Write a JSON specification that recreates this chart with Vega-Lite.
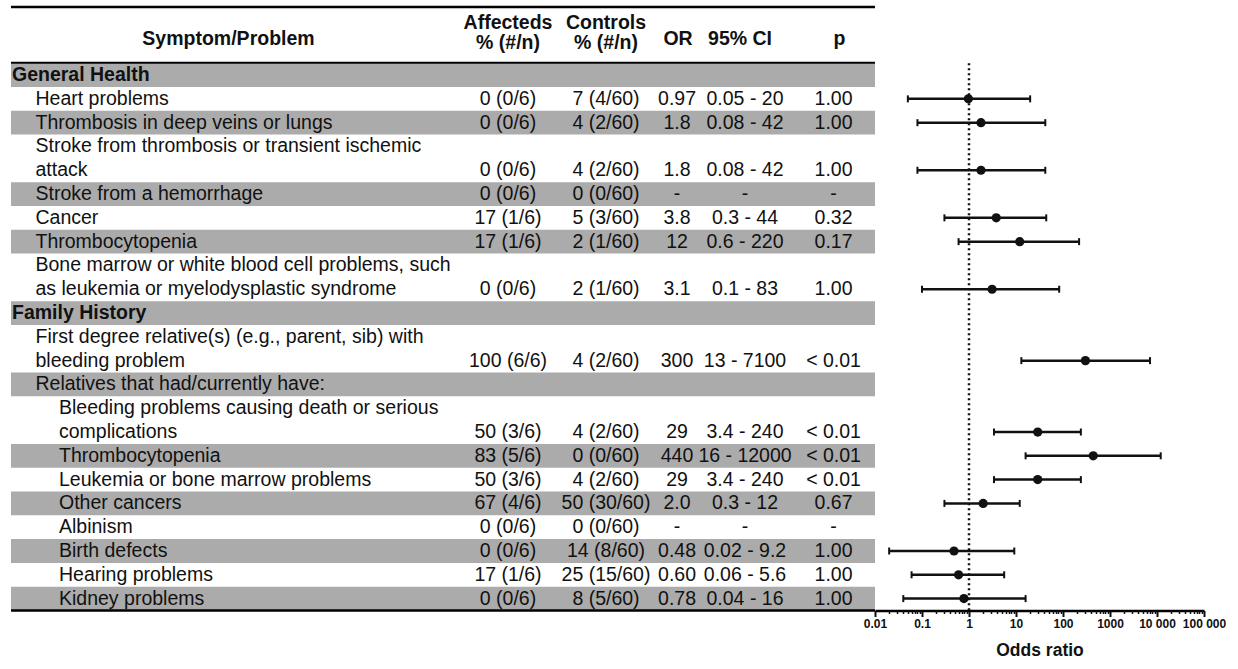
{
  "$schema": "https://vega.github.io/schema/vega-lite/v6.json",
  "padding": {"left": 9, "top": 5, "right": 0, "bottom": 0},
  "spacing": 0,
  "bounds": "flush",
  "config": {
    "view": {"stroke": null},
    "text": {"font": "Liberation Sans", "fontSize": 19.5, "color": "#111"},
    "concat": {"spacing": 0}
  },
  "datasets": {
    "rows": [
      {"item": 0, "k": 0, "level": 0, "label": "General Health"},
      {"item": 1, "k": 1, "level": 1, "label": "Heart problems", "aff": "0 (0/6)", "ctl": "7 (4/60)", "orText": "0.97", "ci": "0.05 - 20", "p": "1.00"},
      {"item": 2, "k": 2, "level": 1, "label": "Thrombosis in deep veins or lungs", "aff": "0 (0/6)", "ctl": "4 (2/60)", "orText": "1.8", "ci": "0.08 - 42", "p": "1.00"},
      {"item": 3, "k": 3, "level": 1, "label": "Stroke from thrombosis or transient ischemic"},
      {"item": 3, "k": 4, "level": 1, "label": "attack", "aff": "0 (0/6)", "ctl": "4 (2/60)", "orText": "1.8", "ci": "0.08 - 42", "p": "1.00"},
      {"item": 4, "k": 5, "level": 1, "label": "Stroke from a hemorrhage", "aff": "0 (0/6)", "ctl": "0 (0/60)", "orText": "-", "ci": "-", "p": "-"},
      {"item": 5, "k": 6, "level": 1, "label": "Cancer", "aff": "17 (1/6)", "ctl": "5 (3/60)", "orText": "3.8", "ci": "0.3 - 44", "p": "0.32"},
      {"item": 6, "k": 7, "level": 1, "label": "Thrombocytopenia", "aff": "17 (1/6)", "ctl": "2 (1/60)", "orText": "12", "ci": "0.6 - 220", "p": "0.17"},
      {"item": 7, "k": 8, "level": 1, "label": "Bone marrow or white blood cell problems, such"},
      {"item": 7, "k": 9, "level": 1, "label": "as leukemia or myelodysplastic syndrome", "aff": "0 (0/6)", "ctl": "2 (1/60)", "orText": "3.1", "ci": "0.1 - 83", "p": "1.00"},
      {"item": 8, "k": 10, "level": 0, "label": "Family History"},
      {"item": 9, "k": 11, "level": 1, "label": "First degree relative(s) (e.g., parent, sib) with"},
      {"item": 9, "k": 12, "level": 1, "label": "bleeding problem", "aff": "100 (6/6)", "ctl": "4 (2/60)", "orText": "300", "ci": "13 - 7100", "p": "< 0.01"},
      {"item": 10, "k": 13, "level": 1, "label": "Relatives that had/currently have:"},
      {"item": 11, "k": 14, "level": 2, "label": "Bleeding problems causing death or serious"},
      {"item": 11, "k": 15, "level": 2, "label": "complications", "aff": "50 (3/6)", "ctl": "4 (2/60)", "orText": "29", "ci": "3.4 - 240", "p": "< 0.01"},
      {"item": 12, "k": 16, "level": 2, "label": "Thrombocytopenia", "aff": "83 (5/6)", "ctl": "0 (0/60)", "orText": "440", "ci": "16 - 12000", "p": "< 0.01"},
      {"item": 13, "k": 17, "level": 2, "label": "Leukemia or bone marrow problems", "aff": "50 (3/6)", "ctl": "4 (2/60)", "orText": "29", "ci": "3.4 - 240", "p": "< 0.01"},
      {"item": 14, "k": 18, "level": 2, "label": "Other cancers", "aff": "67 (4/6)", "ctl": "50 (30/60)", "orText": "2.0", "ci": "0.3 - 12", "p": "0.67"},
      {"item": 15, "k": 19, "level": 2, "label": "Albinism", "aff": "0 (0/6)", "ctl": "0 (0/60)", "orText": "-", "ci": "-", "p": "-"},
      {"item": 16, "k": 20, "level": 2, "label": "Birth defects", "aff": "0 (0/6)", "ctl": "14 (8/60)", "orText": "0.48", "ci": "0.02 - 9.2", "p": "1.00"},
      {"item": 17, "k": 21, "level": 2, "label": "Hearing problems", "aff": "17 (1/6)", "ctl": "25 (15/60)", "orText": "0.60", "ci": "0.06 - 5.6", "p": "1.00"},
      {"item": 18, "k": 22, "level": 2, "label": "Kidney problems", "aff": "0 (0/6)", "ctl": "8 (5/60)", "orText": "0.78", "ci": "0.04 - 16", "p": "1.00"}
    ],
    "ci": [
      {"k": 1, "or": 0.97, "lo": 0.05, "hi": 20},
      {"k": 2, "or": 1.8, "lo": 0.08, "hi": 42},
      {"k": 4, "or": 1.8, "lo": 0.08, "hi": 42},
      {"k": 6, "or": 3.8, "lo": 0.3, "hi": 44},
      {"k": 7, "or": 12, "lo": 0.6, "hi": 220},
      {"k": 9, "or": 3.1, "lo": 0.1, "hi": 83},
      {"k": 12, "or": 300, "lo": 13, "hi": 7100},
      {"k": 15, "or": 29, "lo": 3.4, "hi": 240},
      {"k": 16, "or": 440, "lo": 16, "hi": 12000},
      {"k": 17, "or": 29, "lo": 3.4, "hi": 240},
      {"k": 18, "or": 2.0, "lo": 0.3, "hi": 12},
      {"k": 20, "or": 0.48, "lo": 0.02, "hi": 9.2},
      {"k": 21, "or": 0.60, "lo": 0.06, "hi": 5.6},
      {"k": 22, "or": 0.78, "lo": 0.04, "hi": 16}
    ]
  },
  "hconcat": [
    {
      "width": 441, "height": 603.5,
      "data": {"name": "rows"},
      "layer": [
        {"transform": [{"filter": "datum.item % 2 == 0"}], "mark": {"type": "tick", "orient": "horizontal", "size": 441, "thickness": 23.8, "color": "#ababab", "opacity": 1}, "encoding": {"y": {"field": "k", "type": "quantitative", "scale": {"domain": [-2.86, 22.5], "reverse": true, "nice": false, "zero": false}, "axis": null}}},
        {"transform": [{"filter": "datum.level == 0"}], "mark": {"type": "text", "align": "left", "baseline": "middle", "fontWeight": "bold"}, "encoding": {"x": {"field": "level", "type": "quantitative", "scale": {"domain": [0, 2], "range": [1, 48]}, "axis": null}, "y": {"field": "k", "type": "quantitative", "axis": null}, "text": {"field": "label", "type": "nominal"}}},
        {"transform": [{"filter": "datum.level > 0"}], "mark": {"type": "text", "align": "left", "baseline": "middle"}, "encoding": {"x": {"field": "level", "type": "quantitative", "axis": null}, "y": {"field": "k", "type": "quantitative", "axis": null}, "text": {"field": "label", "type": "nominal"}}},
        {"data": {"values": [{"t": "Symptom/Problem"}]}, "mark": {"type": "text", "baseline": "middle", "fontWeight": "bold", "dx": -3}, "encoding": {"y": {"datum": -1.52, "type": "quantitative", "axis": null}, "text": {"field": "t", "type": "nominal"}}},
        {"data": {"values": [{}]}, "mark": {"type": "rule", "strokeWidth": 2.5, "color": "#000"}, "encoding": {"y": {"datum": -2.86, "type": "quantitative", "axis": null}}},
        {"data": {"values": [{}]}, "mark": {"type": "rule", "strokeWidth": 2, "color": "#000"}, "encoding": {"y": {"datum": -0.52, "type": "quantitative", "axis": null}}},
        {"data": {"values": [{}]}, "mark": {"type": "rule", "strokeWidth": 2.5, "color": "#000"}, "encoding": {"y": {"datum": 22.5, "type": "quantitative", "axis": null}}}
      ]
    },
    {
      "width": 106, "height": 603.5,
      "data": {"name": "rows"},
      "layer": [
        {"transform": [{"filter": "datum.item % 2 == 0"}], "mark": {"type": "tick", "orient": "horizontal", "size": 106, "thickness": 23.8, "color": "#ababab", "opacity": 1}, "encoding": {"y": {"field": "k", "type": "quantitative", "scale": {"domain": [-2.86, 22.5], "reverse": true, "nice": false, "zero": false}, "axis": null}}},
        {"transform": [{"filter": "isValid(datum.aff)"}], "mark": {"type": "text", "baseline": "middle", "dx": 3}, "encoding": {"y": {"field": "k", "type": "quantitative", "axis": null}, "text": {"field": "aff", "type": "nominal"}}},
        {"data": {"values": [{"t": "Affecteds\n% (#/n)"}]}, "mark": {"type": "text", "baseline": "middle", "fontWeight": "bold", "lineBreak": "\n", "lineHeight": 20, "dx": 3}, "encoding": {"y": {"datum": -2.2, "type": "quantitative", "axis": null}, "text": {"field": "t", "type": "nominal"}}},
        {"data": {"values": [{}]}, "mark": {"type": "rule", "strokeWidth": 2.5, "color": "#000"}, "encoding": {"y": {"datum": -2.86, "type": "quantitative", "axis": null}}},
        {"data": {"values": [{}]}, "mark": {"type": "rule", "strokeWidth": 2, "color": "#000"}, "encoding": {"y": {"datum": -0.52, "type": "quantitative", "axis": null}}},
        {"data": {"values": [{}]}, "mark": {"type": "rule", "strokeWidth": 2.5, "color": "#000"}, "encoding": {"y": {"datum": 22.5, "type": "quantitative", "axis": null}}}
      ]
    },
    {
      "width": 94, "height": 603.5,
      "data": {"name": "rows"},
      "layer": [
        {"transform": [{"filter": "datum.item % 2 == 0"}], "mark": {"type": "tick", "orient": "horizontal", "size": 94, "thickness": 23.8, "color": "#ababab", "opacity": 1}, "encoding": {"y": {"field": "k", "type": "quantitative", "scale": {"domain": [-2.86, 22.5], "reverse": true, "nice": false, "zero": false}, "axis": null}}},
        {"transform": [{"filter": "isValid(datum.ctl)"}], "mark": {"type": "text", "baseline": "middle", "dx": 1}, "encoding": {"y": {"field": "k", "type": "quantitative", "axis": null}, "text": {"field": "ctl", "type": "nominal"}}},
        {"data": {"values": [{"t": "Controls\n% (#/n)"}]}, "mark": {"type": "text", "baseline": "middle", "fontWeight": "bold", "lineBreak": "\n", "lineHeight": 20, "dx": 1}, "encoding": {"y": {"datum": -2.2, "type": "quantitative", "axis": null}, "text": {"field": "t", "type": "nominal"}}},
        {"data": {"values": [{}]}, "mark": {"type": "rule", "strokeWidth": 2.5, "color": "#000"}, "encoding": {"y": {"datum": -2.86, "type": "quantitative", "axis": null}}},
        {"data": {"values": [{}]}, "mark": {"type": "rule", "strokeWidth": 2, "color": "#000"}, "encoding": {"y": {"datum": -0.52, "type": "quantitative", "axis": null}}},
        {"data": {"values": [{}]}, "mark": {"type": "rule", "strokeWidth": 2.5, "color": "#000"}, "encoding": {"y": {"datum": 22.5, "type": "quantitative", "axis": null}}}
      ]
    },
    {
      "width": 46, "height": 603.5,
      "data": {"name": "rows"},
      "layer": [
        {"transform": [{"filter": "datum.item % 2 == 0"}], "mark": {"type": "tick", "orient": "horizontal", "size": 46, "thickness": 23.8, "color": "#ababab", "opacity": 1}, "encoding": {"y": {"field": "k", "type": "quantitative", "scale": {"domain": [-2.86, 22.5], "reverse": true, "nice": false, "zero": false}, "axis": null}}},
        {"transform": [{"filter": "isValid(datum.orText)"}], "mark": {"type": "text", "baseline": "middle", "dx": 2}, "encoding": {"y": {"field": "k", "type": "quantitative", "axis": null}, "text": {"field": "orText", "type": "nominal"}}},
        {"data": {"values": [{"t": "OR"}]}, "mark": {"type": "text", "baseline": "middle", "fontWeight": "bold", "dx": 3}, "encoding": {"y": {"datum": -1.52, "type": "quantitative", "axis": null}, "text": {"field": "t", "type": "nominal"}}},
        {"data": {"values": [{}]}, "mark": {"type": "rule", "strokeWidth": 2.5, "color": "#000"}, "encoding": {"y": {"datum": -2.86, "type": "quantitative", "axis": null}}},
        {"data": {"values": [{}]}, "mark": {"type": "rule", "strokeWidth": 2, "color": "#000"}, "encoding": {"y": {"datum": -0.52, "type": "quantitative", "axis": null}}},
        {"data": {"values": [{}]}, "mark": {"type": "rule", "strokeWidth": 2.5, "color": "#000"}, "encoding": {"y": {"datum": 22.5, "type": "quantitative", "axis": null}}}
      ]
    },
    {
      "width": 94, "height": 603.5,
      "data": {"name": "rows"},
      "layer": [
        {"transform": [{"filter": "datum.item % 2 == 0"}], "mark": {"type": "tick", "orient": "horizontal", "size": 94, "thickness": 23.8, "color": "#ababab", "opacity": 1}, "encoding": {"y": {"field": "k", "type": "quantitative", "scale": {"domain": [-2.86, 22.5], "reverse": true, "nice": false, "zero": false}, "axis": null}}},
        {"transform": [{"filter": "isValid(datum.ci)"}], "mark": {"type": "text", "baseline": "middle"}, "encoding": {"y": {"field": "k", "type": "quantitative", "axis": null}, "text": {"field": "ci", "type": "nominal"}}},
        {"data": {"values": [{"t": "95% CI"}]}, "mark": {"type": "text", "baseline": "middle", "fontWeight": "bold", "dx": -5}, "encoding": {"y": {"datum": -1.52, "type": "quantitative", "axis": null}, "text": {"field": "t", "type": "nominal"}}},
        {"data": {"values": [{}]}, "mark": {"type": "rule", "strokeWidth": 2.5, "color": "#000"}, "encoding": {"y": {"datum": -2.86, "type": "quantitative", "axis": null}}},
        {"data": {"values": [{}]}, "mark": {"type": "rule", "strokeWidth": 2, "color": "#000"}, "encoding": {"y": {"datum": -0.52, "type": "quantitative", "axis": null}}},
        {"data": {"values": [{}]}, "mark": {"type": "rule", "strokeWidth": 2.5, "color": "#000"}, "encoding": {"y": {"datum": 22.5, "type": "quantitative", "axis": null}}}
      ]
    },
    {
      "width": 83, "height": 603.5,
      "data": {"name": "rows"},
      "layer": [
        {"transform": [{"filter": "datum.item % 2 == 0"}], "mark": {"type": "tick", "orient": "horizontal", "size": 83, "thickness": 23.8, "color": "#ababab", "opacity": 1}, "encoding": {"y": {"field": "k", "type": "quantitative", "scale": {"domain": [-2.86, 22.5], "reverse": true, "nice": false, "zero": false}, "axis": null}}},
        {"transform": [{"filter": "isValid(datum.p)"}], "mark": {"type": "text", "baseline": "middle", "dx": 0}, "encoding": {"y": {"field": "k", "type": "quantitative", "axis": null}, "text": {"field": "p", "type": "nominal"}}},
        {"data": {"values": [{"t": "p"}]}, "mark": {"type": "text", "baseline": "middle", "fontWeight": "bold", "dx": 6}, "encoding": {"y": {"datum": -1.52, "type": "quantitative", "axis": null}, "text": {"field": "t", "type": "nominal"}}},
        {"data": {"values": [{}]}, "mark": {"type": "rule", "strokeWidth": 2.5, "color": "#000"}, "encoding": {"y": {"datum": -2.86, "type": "quantitative", "axis": null}}},
        {"data": {"values": [{}]}, "mark": {"type": "rule", "strokeWidth": 2, "color": "#000"}, "encoding": {"y": {"datum": -0.52, "type": "quantitative", "axis": null}}},
        {"data": {"values": [{}]}, "mark": {"type": "rule", "strokeWidth": 2.5, "color": "#000"}, "encoding": {"y": {"datum": 22.5, "type": "quantitative", "axis": null}}}
      ]
    },
    {
      "width": 329, "height": 603.5,
      "data": {"name": "ci"},
      "resolve": {"axis": {"x": "independent"}},
      "layer": [
        {"data": {"values": [{}]}, "mark": {"type": "rule", "strokeDash": [2, 3], "strokeWidth": 2.5, "color": "#111"}, "encoding": {"x": {"datum": 1, "type": "quantitative", "scale": {"type": "log", "domain": [0.01, 100000], "nice": false}, "axis": null}, "y": {"datum": -0.5, "type": "quantitative", "scale": {"domain": [-2.86, 22.5], "reverse": true, "nice": false, "zero": false}, "axis": null}, "y2": {"datum": 22.5}}},
        {"mark": {"type": "rule", "strokeWidth": 2.5, "color": "#111"}, "encoding": {
          "x": {"field": "lo", "type": "quantitative", "axis": {
            "orient": "bottom",
            "values": [0.01, 0.1, 1, 10, 100, 1000, 10000, 100000],
            "format": "~g",
            "labelExpr": "datum.value == 10000 ? '10 000' : datum.value == 100000 ? '100 000' : datum.label",
            "labelOverlap": false, "labelFlush": false,
            "labelFont": "Liberation Sans", "labelFontSize": 12, "labelFontWeight": "bold", "labelColor": "#111", "labelPadding": 2,
            "tickSize": 6, "tickWidth": 2, "tickColor": "#111",
            "domainWidth": 2.5, "domainColor": "#000",
            "grid": false,
            "title": "Odds ratio", "titleFont": "Liberation Sans", "titleFontSize": 17.5, "titleFontWeight": "bold", "titleColor": "#111", "titlePadding": 12
          }},
          "x2": {"field": "hi"},
          "y": {"field": "k", "type": "quantitative", "axis": null}
        }},
        {"mark": {"type": "tick", "orient": "vertical", "size": 7, "thickness": 2, "color": "#111", "opacity": 1}, "encoding": {
          "x": {"field": "lo", "type": "quantitative", "axis": {
            "orient": "bottom",
            "values": [0.02, 0.03, 0.04, 0.05, 0.06, 0.07, 0.08, 0.09, 0.2, 0.3, 0.4, 0.5, 0.6, 0.7, 0.8, 0.9, 2, 3, 4, 5, 6, 7, 8, 9, 20, 30, 40, 50, 60, 70, 80, 90, 200, 300, 400, 500, 600, 700, 800, 900, 2000, 3000, 4000, 5000, 6000, 7000, 8000, 9000, 20000, 30000, 40000, 50000, 60000, 70000, 80000, 90000],
            "labels": false, "domain": false, "grid": false, "title": null,
            "tickSize": 3, "tickWidth": 1.5, "tickColor": "#111"
          }},
          "y": {"field": "k", "type": "quantitative", "axis": null}
        }},
        {"mark": {"type": "tick", "orient": "vertical", "size": 7, "thickness": 2, "color": "#111", "opacity": 1}, "encoding": {"x": {"field": "hi", "type": "quantitative", "axis": null}, "y": {"field": "k", "type": "quantitative", "axis": null}}},
        {"mark": {"type": "circle", "size": 85, "opacity": 1, "color": "#111"}, "encoding": {"x": {"field": "or", "type": "quantitative", "axis": null}, "y": {"field": "k", "type": "quantitative", "axis": null}}}
      ]
    }
  ]
}
